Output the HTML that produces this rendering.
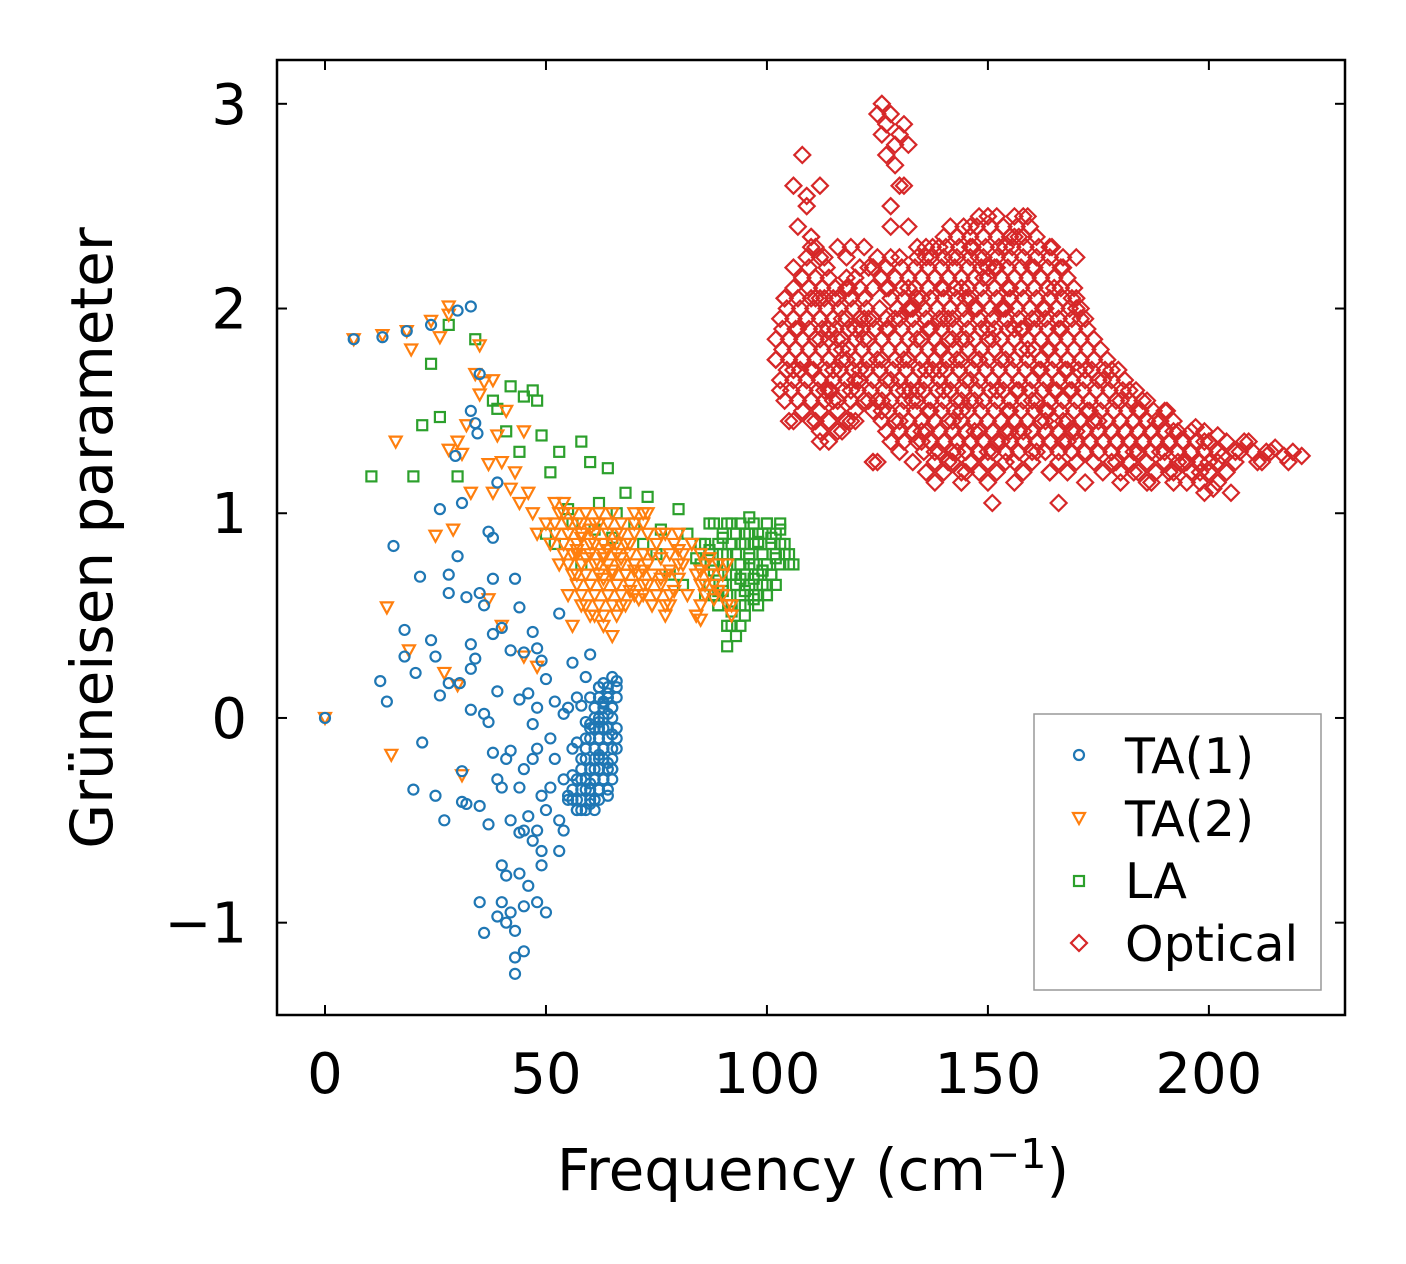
<!DOCTYPE html>
<html><head><meta charset="utf-8"><style>
html,body{margin:0;padding:0;background:#fff;}
svg{display:block;}
text{font-family:"DejaVu Sans","Liberation Sans",sans-serif;fill:#000;}
</style></head><body>
<svg id="chart" width="1406" height="1264" viewBox="0 0 1406 1264" xmlns="http://www.w3.org/2000/svg">
<rect x="0" y="0" width="1406" height="1264" fill="#fff"/>
<g id="marks"></g>
<rect x="277" y="60" width="1068" height="955" fill="none" stroke="#000" stroke-width="2.5"/>
<g id="axes"></g>
<text x="813" y="1190" font-size="58" text-anchor="middle">Frequency (cm<tspan dy="-22" font-size="41">−1</tspan><tspan dy="22">)</tspan></text>
<text transform="translate(112,538) rotate(-90)" font-size="58" text-anchor="middle">Grüneisen parameter</text>
<g>
<rect x="1034" y="714" width="287" height="276" fill="#fff" stroke="#999" stroke-width="1.5"/>
<circle cx="1079" cy="755" r="5" fill="none" stroke="#1f77b4" stroke-width="2.2"/>
<text x="1125" y="773" font-size="49">TA(1)</text>
<path d="M1073,813 L1085,813 L1079,824 Z" fill="none" stroke="#ff7f0e" stroke-width="2.2"/>
<text x="1125" y="836" font-size="49">TA(2)</text>
<rect x="1074" y="876" width="10" height="10" fill="none" stroke="#2ca02c" stroke-width="2.2"/>
<text x="1125" y="898" font-size="49">LA</text>
<path d="M1079,935 L1087,943 L1079,951 L1071,943 Z" fill="none" stroke="#d62728" stroke-width="2.2"/>
<text x="1125" y="961" font-size="49">Optical</text>
</g>
</svg>
<script>
const xTicks=[0,50,100,150,200];
const yTicks=[-1,0,1,2,3];
const yTickLabels=["−1","0","1","2","3"];
const ta1Freq=[0,6.5,13,18.5,24,30,33,15.5,12.5,14,18,18,20.5,21.5,22,20,24,25,25,26,26,27,28,28,28,29.5,30,30.5,31,31,31,32,32,33,33,33,33,34,34,34.5,35,35,35,35,36,36,36,37,37,37,38,38,38,38,39,39,39,39,40,40,40,40,41,41,41,42,42,42,42,43,43,43,43,44,44,44,44,44,45,45,45,45,45,46,46,46,47,47,47,47,48,48,48,48,48,49,49,49,49,50,50,50,51,51,52,52,53,53,53,54,54,54,55,55,56,56,57,57,58,58,59,59,60,60,61,61,61,62,62,62,62,63,63,63,63,63,64,64,64,64,64,65,65,65,65,66,66,57,58,59,60,61,62,60,61,63,56,55,58,59,57,60,62,64,65];
const ta1Gamma=[0,1.85,1.86,1.89,1.92,1.99,2.01,0.84,0.18,0.08,0.43,0.3,0.22,0.69,-0.12,-0.35,0.38,0.3,-0.38,1.02,0.11,-0.5,0.7,0.61,0.17,1.28,0.79,0.17,1.05,-0.26,-0.41,0.59,-0.42,0.36,0.24,0.04,1.5,0.29,1.44,1.39,1.68,0.61,-0.43,-0.9,-1.05,0.55,0.02,0.91,-0.52,-0.02,0.88,0.41,0.68,-0.17,1.15,0.13,-0.3,-0.97,0.44,-0.34,-0.72,-0.9,-0.77,-0.2,-1.0,0.33,-0.16,-0.5,-0.95,-1.04,-1.17,-1.25,0.68,0.54,0.09,-0.34,-0.56,-0.76,0.32,-0.25,-0.55,-0.92,-1.14,0.12,-0.48,-0.82,0.42,-0.03,-0.2,-0.6,0.34,0.05,-0.15,-0.55,-0.9,0.28,-0.38,-0.65,-0.72,0.19,-0.95,-0.45,-0.1,-0.34,0.08,-0.2,0.51,-0.5,-0.65,0.02,-0.3,-0.55,0.05,-0.4,-0.15,0.27,0.1,-0.45,0.06,-0.3,0.2,-0.1,0.31,0.1,-0.05,-0.25,-0.4,0.15,0.0,-0.2,-0.35,0.17,0.08,-0.05,-0.15,-0.3,0.12,0.02,-0.1,-0.22,-0.38,0.2,0.05,-0.08,-0.25,0.18,-0.15,-0.12,-0.2,-0.35,-0.42,-0.3,-0.18,-0.03,-0.4,0.07,-0.28,-0.38,-0.45,-0.02,-0.4,-0.32,-0.02,0.1];
const ta1RowGamma=[-0.45,-0.4,-0.35,-0.3,-0.25,-0.2,-0.15,-0.1,-0.05,0.0,0.05,0.1,0.15];
const ta1RowFreqs=[[57,59,61],[56,58,60,62],[56,58,60,62,64],[57,59,61,63,65],[58,60,62,64,65],[59,61,63,65],[59,61,63,65],[60,62,64,66],[60,62,64,66],[61,63,65],[61,63,65],[62,64,66],[62,64,66]];
const ta2Freq=[0,6.5,13,18.5,19.5,16,14,15,19,24,25,26,27,28,28,28,29,30,30,31,31,32,33,34,35,35,36,37,37,38,38,39,40,40,41,42,43,44,45,45,46,47,48,48,50,51,52,53,54,55,55,56,56,57,57,58,58,59,60,60,61,61,62,62,63,63,64,64,65,65,66,66,67,67,68,68,69,70,70,71,72,72,73,74,74,75,76,76,77,78,78,79,80,80,81,82,83,84,85,85,86,87,88,89,90,91,92,52,54,57,59,61,63,65,68,70,72];
const ta2Gamma=[0,1.85,1.87,1.89,1.8,1.35,0.54,-0.18,0.33,1.94,0.89,1.86,0.22,1.97,2.01,1.31,0.92,1.35,0.16,-0.28,1.29,1.43,1.1,1.68,1.58,1.82,1.64,1.24,0.58,1.65,1.1,1.38,1.25,0.45,1.5,1.12,1.2,1.05,0.3,1.4,1.1,1.0,0.9,0.25,0.95,0.85,1.05,0.75,1.0,0.6,0.9,0.8,0.45,0.95,0.7,0.88,0.55,0.78,0.92,0.65,0.85,0.5,0.75,0.95,0.68,0.45,0.82,0.6,0.72,0.4,0.9,0.65,0.78,0.55,0.85,0.7,0.62,0.95,0.75,0.58,0.72,1.0,0.65,0.8,0.55,0.6,0.78,0.68,0.9,0.55,0.72,0.62,0.82,0.68,0.75,0.6,0.85,0.5,0.48,0.72,0.65,0.78,0.58,0.62,0.7,0.75,0.55,0.95,1.05,0.82,1.0,0.9,0.78,0.85,0.7,0.72,0.6];
const ta2RowGamma=[1.0,0.95,0.9,0.85,0.8,0.75,0.7,0.65,0.6,0.55,0.5];
const ta2RowFreqs=[[53,56,59,62,65,70,73],[55,58,61,64,67,72],[52,55,58,61,64,67,70,73,76,80],[54,57,60,63,66,69,75,79,83],[54,57,60,63,66,69,72,78,81,85],[55,58,61,64,67,70,73,80,86,89],[56,59,62,65,68,71,74,77,84,87],[57,60,63,66,69,72,76,85,88],[58,61,64,67,70,75,78,86,90],[59,62,65,68,74,77,85,91],[60,63,66,77,84,92]];
const laFreq=[10.5,20,22,24,26,28,30,34,38,39,41,42,44,45,47,48,49,50,51,52,53,55,56,58,58,60,61,62,64,65,66,68,70,72,73,75,76,78,80,81,82,84,85,86,87,88,89,90,90,91,92,92,93,94,94,95,95,96,96,97,97,98,98,99,99,100,100,101,101,102,103,104,105,93,95,97,99,91,89,87,94,96,98,100,92,90,103];
const laGamma=[1.18,1.18,1.43,1.73,1.47,1.92,1.18,1.85,1.55,1.51,1.4,1.62,1.3,1.57,1.6,1.55,1.38,0.9,1.2,0.85,1.3,1.02,0.95,1.35,0.75,1.25,0.92,1.05,1.22,0.88,1.0,1.1,0.95,0.85,1.08,0.8,0.92,0.7,1.02,0.65,0.9,0.78,0.85,0.6,0.95,0.72,0.55,0.88,0.62,0.8,0.45,0.95,0.7,0.85,0.55,0.9,0.62,0.75,0.98,0.68,0.85,0.6,0.9,0.72,0.8,0.65,0.95,0.7,0.88,0.78,0.85,0.8,0.75,0.4,0.5,0.58,0.72,0.35,0.62,0.82,0.68,0.78,0.86,0.6,0.52,0.75,0.92];
const laRowGamma=[0.95,0.9,0.85,0.8,0.75,0.7,0.65,0.6,0.55,0.45];
const laRowFreqs=[[88,91,94,97,100,103],[90,93,96,99,102],[86,89,92,95,98,101,104],[87,90,93,96,99,102,105],[85,88,91,94,97,100,103,106],[89,92,95,98,101],[87,90,93,96,99,102],[88,91,94,97,100],[89,92,95,98],[91,94]];
const optFreq=[102,103,104,105,105,106,106,107,107,108,108,109,109,110,110,111,111,112,112,113,113,114,114,115,115,116,116,117,117,118,118,119,119,120,120,121,121,122,122,123,123,124,124,125,125,126,126,127,127,128,128,129,129,130,130,131,131,132,132,133,133,134,134,135,135,136,136,137,137,138,138,139,139,140,140,141,141,142,142,143,143,144,144,145,145,146,146,147,147,148,148,149,149,150,150,151,151,152,152,153,153,154,154,155,155,156,156,157,157,158,158,159,159,160,160,161,161,162,162,163,163,164,164,165,165,166,166,167,167,168,168,169,169,170,170,171,172,173,174,175,176,177,178,179,180,181,182,183,184,185,186,187,188,189,190,191,192,193,194,195,196,197,198,199,200,201,202,203,205,207,209,211,213,215,217,219,221,125,126,127,128,129,130,131,132,106,107,108,109,110,112,114,116,118,120,122,124,126,128,130,132,134,136,138,140,142,144,146,148,150,152,154,156,158,160,162,164,166,168,170,115,117,119,121,123,127,131,135,139,143,147,151,155,159,163,167,171,175,179,183,187,191,195,199,150,165,140,145,155,160];
const optGamma=[1.75,1.6,2.05,1.45,1.85,1.7,2.2,1.55,2.4,1.75,2.75,1.95,2.55,1.7,2.35,1.45,2.05,1.85,2.6,1.6,2.25,1.9,1.35,2.05,1.7,2.3,1.55,1.95,1.4,2.15,1.75,1.6,2.05,1.9,1.45,2.1,1.7,1.85,2.3,1.55,1.95,1.25,2.2,1.75,2.95,1.55,2.85,2.1,2.75,1.65,2.5,1.95,2.8,1.45,2.25,2.6,1.75,2.1,2.4,1.55,2.0,1.85,2.3,1.35,2.05,1.7,2.25,1.5,1.9,2.15,1.3,1.8,2.3,1.6,2.05,1.25,1.95,2.25,1.45,1.75,2.35,1.55,2.1,1.85,1.2,2.4,1.65,2.0,1.4,2.25,1.75,1.55,2.15,2.45,1.3,1.85,1.05,2.2,1.6,2.0,1.35,2.3,1.75,1.5,2.1,1.9,1.25,2.35,1.6,2.05,1.4,2.45,1.8,1.55,2.2,1.3,1.95,1.7,2.15,1.45,2.0,1.8,1.2,2.1,1.6,1.05,1.9,1.45,2.2,1.75,1.35,2.05,1.6,2.25,1.4,1.95,1.7,1.5,1.85,1.3,1.65,1.45,1.7,1.25,1.55,1.4,1.6,1.2,1.5,1.35,1.55,1.15,1.45,1.3,1.5,1.2,1.4,1.25,1.35,1.15,1.3,1.42,1.2,1.35,1.25,1.12,1.38,1.28,1.1,1.3,1.35,1.25,1.3,1.32,1.28,1.3,1.28,1.25,3.0,2.9,2.95,2.7,2.85,2.9,2.8,2.6,1.9,2.15,2.5,2.3,2.05,1.6,1.85,2.1,1.65,1.95,2.2,1.5,2.4,2.6,2.0,1.6,2.3,1.75,2.1,1.85,1.5,2.3,1.75,2.2,1.6,2.0,2.35,1.9,1.65,2.15,2.3,1.95,1.7,2.0,1.55,1.8,1.45,1.65,2.2,1.9,1.6,1.4,1.7,1.3,1.55,1.65,1.4,1.8,1.5,1.55,1.45,1.45,1.35,1.3,1.4,1.35,1.25,1.1,1.9,1.85,1.95,2.05,2.05];
const optRowGamma=[2.45,2.35,2.25,2.15,2.05,1.95,1.85,1.75,1.65,1.55,1.45,1.35,1.25,1.15];
const optRowFreqs=[
[148,150,152,156,158],
[110,140,143,146,149,152,155,158,161],
[109,112,118,125,128,134,137,140,143,146,149,152,155,158,161,164,167],
[108,111,114,120,126,129,132,135,138,141,144,147,150,153,156,159,162,165,168],
[104,107,110,113,116,119,122,128,131,134,137,140,143,146,149,152,155,158,161,164,167,170],
[103,106,109,112,115,118,121,124,127,130,133,136,139,142,145,148,151,154,157,160,163,166,169,172],
[102,105,108,111,114,117,120,123,126,129,132,135,138,141,144,147,150,153,156,159,162,165,168,171,174],
[102,105,108,111,114,117,120,123,126,129,132,135,138,141,144,147,150,153,156,159,162,165,168,171,174,177],
[103,106,109,112,115,118,121,124,127,130,133,136,139,142,145,148,151,154,157,160,163,166,169,172,175,178,181],
[104,107,110,113,116,119,122,125,128,131,134,137,140,143,146,149,152,155,158,161,164,167,170,173,176,179,182,185],
[106,110,114,118,126,129,132,135,138,141,144,147,150,153,156,159,162,165,168,171,174,177,180,183,186,189,192],
[112,128,131,134,137,140,143,146,149,152,155,158,161,164,167,170,173,176,179,182,185,188,191,194,197,200,204,208],
[124,133,138,142,146,150,154,160,166,170,174,178,182,186,190,194,198,202,206,212,218],
[138,144,150,156,172,180,186,192,198,202]];
const optRowGamma2=[2.4,2.3,2.2,2.1,2.0,1.9,1.8,1.7,1.6,1.5,1.4,1.3,1.2];
const optRowFreqs2=[
[141.5,144.5,147.5,150.5,153.5,156.5,159.5],
[111,119,137.5,140.5,143.5,146.5,149.5,152.5,155.5,158.5,161.5,164.5],
[109.5,113.5,121,127,130.5,133.5,136.5,139.5,142.5,145.5,148.5,151.5,154.5,157.5,160.5,163.5,166.5],
[106,109.5,112.5,115.5,118.5,124,127.5,130.5,133.5,136.5,139.5,142.5,145.5,148.5,151.5,154.5,157.5,160.5,163.5,166.5,169.5],
[104.5,107.5,110.5,113.5,116.5,119.5,122.5,125.5,129.5,132.5,135.5,138.5,141.5,144.5,147.5,150.5,153.5,156.5,159.5,162.5,165.5,168.5,171],
[103.5,106.5,109.5,112.5,115.5,118.5,121.5,124.5,127.5,130.5,133.5,136.5,139.5,142.5,145.5,148.5,151.5,154.5,157.5,160.5,163.5,166.5,169.5,172.5],
[103.5,106.5,109.5,112.5,115.5,118.5,121.5,124.5,127.5,130.5,133.5,136.5,139.5,142.5,145.5,148.5,151.5,154.5,157.5,160.5,163.5,166.5,169.5,172.5,175.5],
[104.5,107.5,110.5,113.5,116.5,119.5,122.5,125.5,128.5,131.5,134.5,137.5,140.5,143.5,146.5,149.5,152.5,155.5,158.5,161.5,164.5,167.5,170.5,173.5,176.5,179.5],
[105.5,108.5,111.5,114.5,117.5,120.5,123.5,126.5,129.5,132.5,135.5,138.5,141.5,144.5,147.5,150.5,153.5,156.5,159.5,162.5,165.5,168.5,171.5,174.5,177.5,180.5,183.5],
[108,112,116,120,124,127.5,130.5,133.5,136.5,139.5,142.5,145.5,148.5,151.5,154.5,157.5,160.5,163.5,166.5,169.5,172.5,175.5,178.5,181.5,184.5,187.5,190.5],
[112,116,127,130,133,136,139,142,145,148,151,154,157,160,163,166,169,172,175,178,181,184,187,190,193,196,199],
[130,135.5,139,142,145,148,151,154,157,160,163,166,169,172,175,178,181,184,187,190,193,196,199,202,206,210,214],
[136,140,144,148,152,158,164,168,176,180,184,188,192,196,200,204]];
const NS='http://www.w3.org/2000/svg';
const X0=277,X1=1345,Y0=60,Y1=1015,xmin=-10.86,xmax=230.8,ymin=-1.451,ymax=3.214;
function xs(v){return X0+(v-xmin)/(xmax-xmin)*(X1-X0);}
function ys(v){return Y1-(v-ymin)/(ymax-ymin)*(Y1-Y0);}
const marks=document.getElementById('marks');
const axes=document.getElementById('axes');
function mk(tag,attrs,parent){const e=document.createElementNS(NS,tag);for(const k in attrs)e.setAttribute(k,attrs[k]);parent.appendChild(e);return e;}
function expand(fx,gy,rowG,rowF){
  const F=[],G=[];const n=Math.min(fx.length,gy.length);
  for(let i=0;i<n;i++){F.push(fx[i]);G.push(gy[i]);}
  rowG.forEach((g,r)=>rowF[r].forEach(f=>{F.push(f);G.push(g);}));
  return [F,G];
}
function drawSeries(fx,gy,color,kind,name){
  const g=mk('g',{},marks);
  
  
  for(let i=0;i<fx.length;i++){
    const x=xs(fx[i]),y=ys(gy[i]);let e;
    if(kind==='circle')e=mk('circle',{cx:x,cy:y,r:5,fill:'none',stroke:color,'stroke-width':2.2},g);
    else if(kind==='tri')e=mk('path',{d:`M${x-6},${y-5} L${x+6},${y-5} L${x},${y+6} Z`,fill:'none',stroke:color,'stroke-width':2.2},g);
    else if(kind==='sq')e=mk('rect',{x:x-5,y:y-5,width:10,height:10,fill:'none',stroke:color,'stroke-width':2.2},g);
    else e=mk('path',{d:`M${x},${y-8} L${x+8},${y} L${x},${y+8} L${x-8},${y} Z`,fill:'none',stroke:color,'stroke-width':2.2},g);
    
    
  }
}
let s;
s=expand(optFreq,optGamma,optRowGamma,optRowFreqs);drawSeries(s[0],s[1],'#d62728','dia','optical');
s=expand([],[],optRowGamma2,optRowFreqs2);drawSeries(s[0],s[1],'#d62728','dia','optical-dense');
s=expand(laFreq,laGamma,laRowGamma,laRowFreqs);drawSeries(s[0],s[1],'#2ca02c','sq','la');
s=expand(ta2Freq,ta2Gamma,ta2RowGamma,ta2RowFreqs);drawSeries(s[0],s[1],'#ff7f0e','tri','ta2');
s=expand(ta1Freq,ta1Gamma,ta1RowGamma,ta1RowFreqs);drawSeries(s[0],s[1],'#1f77b4','circle','ta1');
xTicks.forEach(v=>{
  const x=xs(v);
  const t1=mk('line',{x1:x,y1:Y1,x2:x,y2:Y1-10,stroke:'#000','stroke-width':2},axes);
  
  
  const t2=mk('line',{x1:x,y1:Y0,x2:x,y2:Y0+10,stroke:'#000','stroke-width':2},axes);
  
  
  const l=mk('text',{x:x,y:1093,'font-size':56,'text-anchor':'middle'},axes);
  l.textContent=String(v);
  
  
});
yTicks.forEach((v,i)=>{
  const y=ys(v);
  const t1=mk('line',{x1:X0,y1:y,x2:X0+10,y2:y,stroke:'#000','stroke-width':2},axes);
  
  
  const t2=mk('line',{x1:X1,y1:y,x2:X1-10,y2:y,stroke:'#000','stroke-width':2},axes);
  
  
  const l=mk('text',{x:247,y:y+20,'font-size':56,'text-anchor':'end'},axes);
  l.textContent=yTickLabels[i];
  
  
});
</script>
</body></html>
